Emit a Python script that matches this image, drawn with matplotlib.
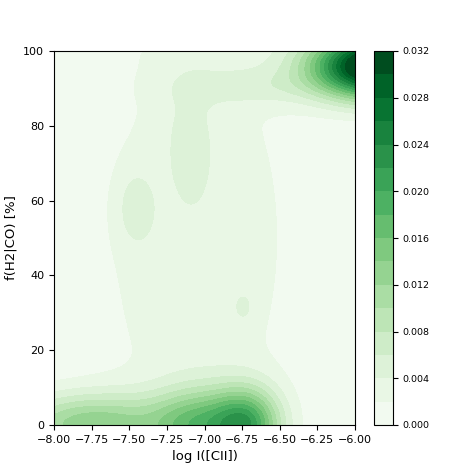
import numpy as np
import matplotlib
matplotlib.use("Agg")
import matplotlib.pyplot as plt

# density field described as a handful of gaussian bumps
#            broad   strip   topband  top    leftblob  dot    b-6.72  b-7.05  b-7.75  top-right
blob_x = [-7.05, -7.10, -6.70, -6.95, -7.46, -6.74, -6.72, -7.05, -7.75, -5.85]
blob_y = [50.0, 77.0, 90.5, 100.0, 58.0, 31.5, 0.0, 0.0, 0.0, 96.0]
blob_sx = [0.50, 0.11, 0.35, 0.50, 0.085, 0.045, 0.16, 0.20, 0.40, 0.30]
blob_sy = [45.0, 11.0, 3.5, 5.0, 7.0, 2.8, 7.0, 7.0, 6.0, 6.0]
blob_amp = [0.0035, 0.0022, 0.0030, 0.0008, 0.0030, 0.0020,
            0.0180, 0.0120, 0.0130, 0.0380]

x_range = (-8.0, -6.0)
y_range = (0.0, 100.0)
levels = np.arange(0, 0.0321, 0.002)
cbar_ticks = np.arange(0, 0.0321, 0.004)


def density(xx, yy):
    z = np.zeros_like(xx)
    for bx, by, sx, sy, a in zip(blob_x, blob_y, blob_sx, blob_sy, blob_amp):
        z += a * np.exp(-0.5 * (((xx - bx) / sx) ** 2 + ((yy - by) / sy) ** 2))
    return z


def main():
    gx = np.linspace(*x_range, 300)
    gy = np.linspace(*y_range, 300)
    xx, yy = np.meshgrid(gx, gy)
    zz = np.clip(density(xx, yy), 0, levels[-1] - 1e-6)

    fig = plt.figure(figsize=(4.71, 4.71), dpi=100)
    ax = fig.add_axes([54 / 471, 46 / 471, 301 / 471, 374 / 471])
    cax = fig.add_axes([374 / 471, 46 / 471, 19 / 471, 374 / 471])

    cs = ax.contourf(xx, yy, zz, levels=levels, cmap="Greens")
    ax.set_xlim(*x_range)
    ax.set_ylim(*y_range)
    xt = np.arange(-8.0, -5.99, 0.25)
    ax.set_xticks(xt)
    ax.set_xticklabels([f"{v:.2f}".replace("-", "\u2212") for v in xt])
    ax.set_yticks([0, 20, 40, 60, 80, 100])
    ax.tick_params(labelsize=8)
    ax.set_xlabel("log I([CII])", fontsize=9.5)
    ax.set_ylabel("f(H2|CO) [%]", fontsize=9.5)

    cb = fig.colorbar(cs, cax=cax, ticks=cbar_ticks)
    cb.ax.set_yticklabels([f"{t:.3f}" for t in cbar_ticks])
    cb.ax.tick_params(labelsize=6.8)

    fig.savefig("out.png", dpi=100)


if __name__ == "__main__":
    main()
